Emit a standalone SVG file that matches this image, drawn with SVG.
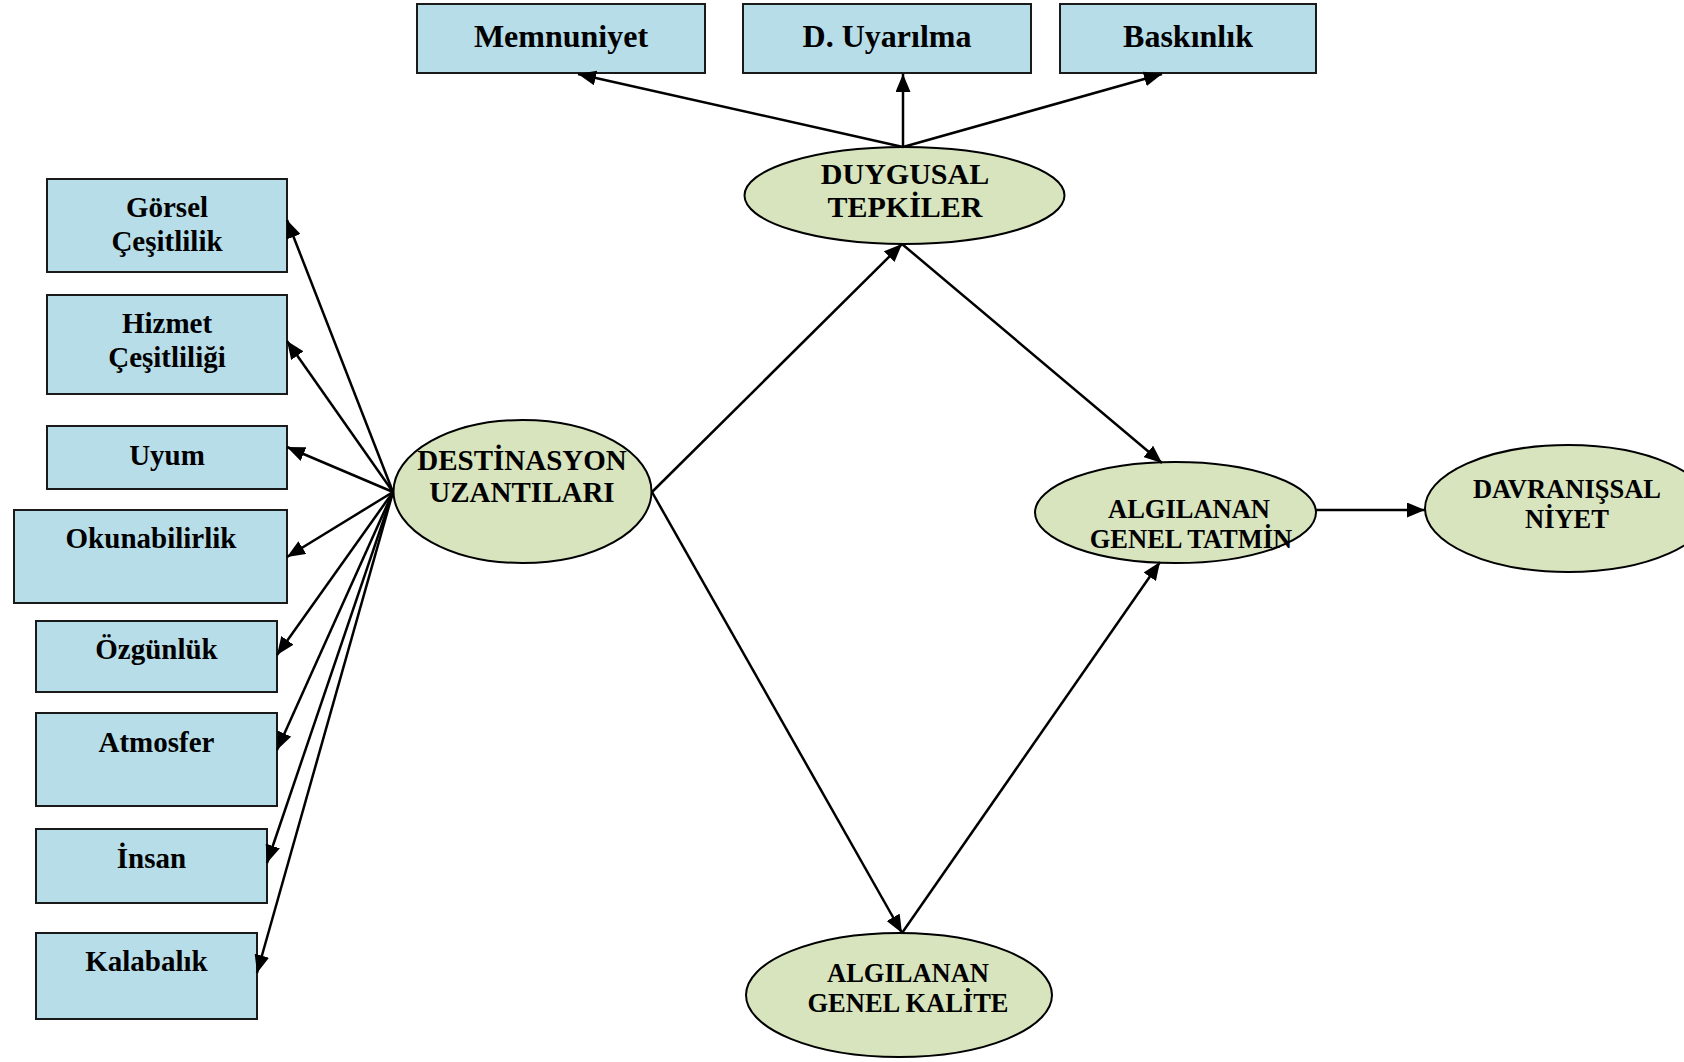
<svg xmlns="http://www.w3.org/2000/svg" width="1684" height="1062" viewBox="0 0 1684 1062">
<defs>
<marker id="ah" markerUnits="userSpaceOnUse" markerWidth="19" markerHeight="15" refX="18" refY="7.5" orient="auto">
<path d="M0,0 L18,7.5 L0,15 z" fill="#000"/>
</marker>
<style>
.box{fill:#b7dde8;stroke:#1a1a1a;stroke-width:2}
.ell{fill:#d7e4bd;stroke:#000;stroke-width:2}
text{font-family:"Liberation Serif","Times New Roman",serif;font-weight:bold;fill:#000;text-anchor:middle}
.t32{font-size:32px}
.t29{font-size:29px}
.t30{font-size:30px}
.t27{font-size:26.5px}
.con line{stroke:#000;stroke-width:2.5;fill:none;marker-end:url(#ah)}
</style>
</defs>
<rect width="1684" height="1062" fill="#fff"/>

<g id="memnuniyet"><rect class="box" x="417" y="4" width="288" height="69"/><text class="t32" x="561" y="47">Memnuniyet</text></g>
<g id="d-uyarilma"><rect class="box" x="743" y="4" width="288" height="69"/><text class="t32" x="887" y="47">D. Uyarılma</text></g>
<g id="baskinlik"><rect class="box" x="1060" y="4" width="256" height="69"/><text class="t32" x="1188" y="47">Baskınlık</text></g>

<g id="gorsel"><rect class="box" x="47" y="179" width="240" height="93"/><text class="t29" x="167" y="217">Görsel</text><text class="t29" x="167" y="251">Çeşitlilik</text></g>
<g id="hizmet"><rect class="box" x="47" y="295" width="240" height="99"/><text class="t29" x="167" y="333">Hizmet</text><text class="t29" x="167" y="367">Çeşitliliği</text></g>
<g id="uyum"><rect class="box" x="47" y="426" width="240" height="63"/><text class="t29" x="167" y="465">Uyum</text></g>
<g id="okunabilirlik"><rect class="box" x="14" y="510" width="273" height="93"/><text class="t29" x="151" y="548">Okunabilirlik</text></g>
<g id="ozgunluk"><rect class="box" x="36" y="621" width="241" height="71"/><text class="t29" x="156.5" y="659">Özgünlük</text></g>
<g id="atmosfer"><rect class="box" x="36" y="713" width="241" height="93"/><text class="t29" x="156.5" y="752">Atmosfer</text></g>
<g id="insan"><rect class="box" x="36" y="829" width="231" height="74"/><text class="t29" x="151.5" y="868">İnsan</text></g>
<g id="kalabalik"><rect class="box" x="36" y="933" width="221" height="86"/><text class="t29" x="146.5" y="971">Kalabalık</text></g>

<g id="duygusal"><ellipse class="ell" cx="904.5" cy="195.5" rx="160" ry="48.5"/><text class="t30" x="905" y="184">DUYGUSAL</text><text class="t30" x="905" y="217">TEPKİLER</text></g>
<g id="destinasyon"><ellipse class="ell" cx="522.5" cy="491.5" rx="129" ry="71.5"/><text class="t29" x="522" y="470">DESTİNASYON</text><text class="t29" x="522" y="502">UZANTILARI</text></g>
<g id="tatmin"><ellipse class="ell" cx="1175.5" cy="512.5" rx="140.5" ry="50.5"/><text class="t27" x="1189" y="518">ALGILANAN</text><text class="t27" x="1191" y="548">GENEL TATMİN</text></g>
<g id="davranissal"><ellipse class="ell" cx="1568" cy="508.5" rx="143" ry="63.5"/><text class="t27" x="1567" y="498">DAVRANIŞSAL</text><text class="t27" x="1567" y="528">NİYET</text></g>
<g id="kalite"><ellipse class="ell" cx="899" cy="995" rx="153" ry="62"/><text class="t27" x="908" y="982">ALGILANAN</text><text class="t27" x="908" y="1012">GENEL KALİTE</text></g>

<g id="connectors" class="con">
<line x1="903" y1="147" x2="578" y2="74"/>
<line x1="903" y1="147" x2="903" y2="74"/>
<line x1="903" y1="147" x2="1162" y2="74"/>
<line x1="393" y1="492" x2="287" y2="220"/>
<line x1="393" y1="492" x2="287" y2="341"/>
<line x1="393" y1="492" x2="287" y2="447"/>
<line x1="393" y1="492" x2="287" y2="557"/>
<line x1="393" y1="492" x2="277" y2="655"/>
<line x1="393" y1="492" x2="277" y2="750"/>
<line x1="393" y1="492" x2="267" y2="863"/>
<line x1="393" y1="492" x2="257" y2="973"/>
<line x1="652" y1="492" x2="902" y2="244"/>
<line x1="902" y1="244" x2="1162" y2="463"/>
<line x1="652" y1="492" x2="902" y2="933"/>
<line x1="902" y1="933" x2="1160" y2="562"/>
<line x1="1316" y1="510" x2="1425" y2="510"/>
</g>
</svg>
